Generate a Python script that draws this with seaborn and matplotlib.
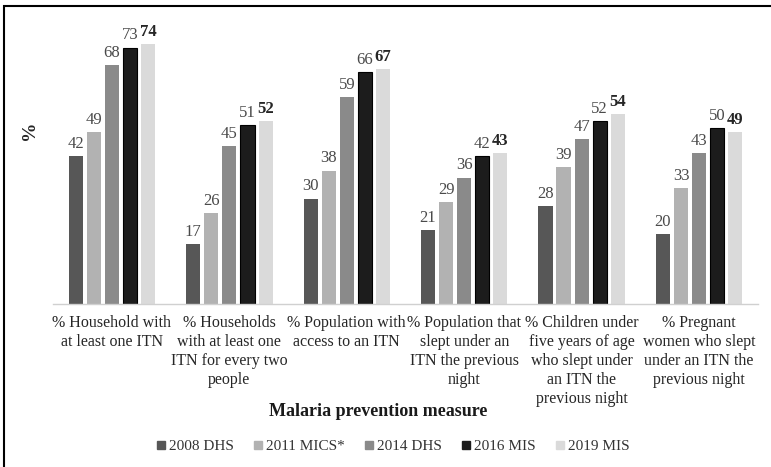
import matplotlib
matplotlib.use("Agg")
import matplotlib.pyplot as plt
from matplotlib.patches import Rectangle
from matplotlib.lines import Line2D
import seaborn as sns
import pandas as pd

# Malaria prevention indicators by survey round
measures = [
    "% Household with\nat least one ITN",
    "% Households\nwith at least one\nITN for every two\npeople",
    "% Population with\naccess to an ITN",
    "% Population that\nslept under an\nITN the previous\nnight",
    "% Children under\nfive years of age\nwho slept under\nan ITN the\nprevious night",
    "% Pregnant\nwomen who slept\nunder an ITN the\nprevious night",
]
surveys = ["2008 DHS", "2011 MICS*", "2014 DHS", "2016 MIS", "2019 MIS"]
dhs_2008 = [42, 17, 30, 21, 28, 20]
mics_2011 = [49, 26, 38, 29, 39, 33]
dhs_2014 = [68, 45, 59, 36, 47, 43]
mis_2016 = [73, 51, 66, 42, 52, 50]
mis_2019 = [74, 52, 67, 43, 54, 49]

colors = ["#575757", "#b2b2b2", "#8a8a8a", "#1c1c1c", "#dadada"]

series = [dhs_2008, mics_2011, dhs_2014, mis_2016, mis_2019]
df = pd.DataFrame(
    [(m, s, v) for s, vals in zip(surveys, series) for m, v in zip(measures, vals)],
    columns=["measure", "survey", "value"],
)

sns.set_theme(style="white")
plt.rcParams["font.family"] = ["Liberation Serif", "DejaVu Serif"]

fig = plt.figure(figsize=(7.71, 4.67), dpi=100)
ax = fig.add_axes([0.0691, 0.349, 0.9137, 0.6017])

sns.barplot(
    data=df, x="measure", y="value", hue="survey", hue_order=surveys,
    order=measures, palette=colors, width=0.77, gap=0.22,
    linewidth=0, saturation=1, ax=ax, legend=False,
)
# thin outline on the darkest series
for bar in ax.containers[3]:
    bar.set_edgecolor("#000000")
    bar.set_linewidth(0.8)

for i, cont in enumerate(ax.containers):
    last = i == len(ax.containers) - 1
    ax.bar_label(
        cont, labels=[str(v) for v in series[i]], padding=3,
        fontsize=12, color="#262626" if last else "#4a4a4a",
        fontweight="bold" if last else "normal",
    )

ax.set_ylim(0, 80)
ax.set_yticks([])
ax.set_xlabel("")
ax.set_ylabel("")
for side in ["top", "right", "left"]:
    ax.spines[side].set_visible(False)
ax.spines["bottom"].set_color("#d0d0d0")
ax.spines["bottom"].set_linewidth(1)
ax.tick_params(axis="x", length=0, pad=8)
for lbl in ax.get_xticklabels():
    lbl.set_fontsize(11.5)
    lbl.set_color("#262626")
    lbl.set_multialignment("center")
    lbl.set_linespacing(1.25)
    lbl.set_va("top")

fig.text(30 / 771, 1 - 130 / 467, "%", rotation=90, ha="center", va="center",
         fontsize=14, fontweight="bold", color="#262626")
fig.text(378 / 771, 1 - 412 / 467, "Malaria prevention measure", ha="center",
         va="center", fontsize=13, fontweight="bold", color="#1a1a1a")

handles = [Line2D([], [], marker="s", linestyle="none", markersize=6,
                  markerfacecolor=c, markeredgecolor=c) for c in colors]
fig.legend(handles, surveys, loc="center", bbox_to_anchor=(393 / 771, 1 - 446 / 467),
           ncol=5, frameon=False, fontsize=11, handlelength=0.6, handletextpad=0.2,
           columnspacing=1.3, labelcolor="#333333")

fig.patches.append(Rectangle((4 / 771, -0.2), 1.2, 1.2 - 6 / 467,
                             transform=fig.transFigure, fill=False,
                             edgecolor="#000000", linewidth=1.5))

fig.savefig("out.png", dpi=100)
